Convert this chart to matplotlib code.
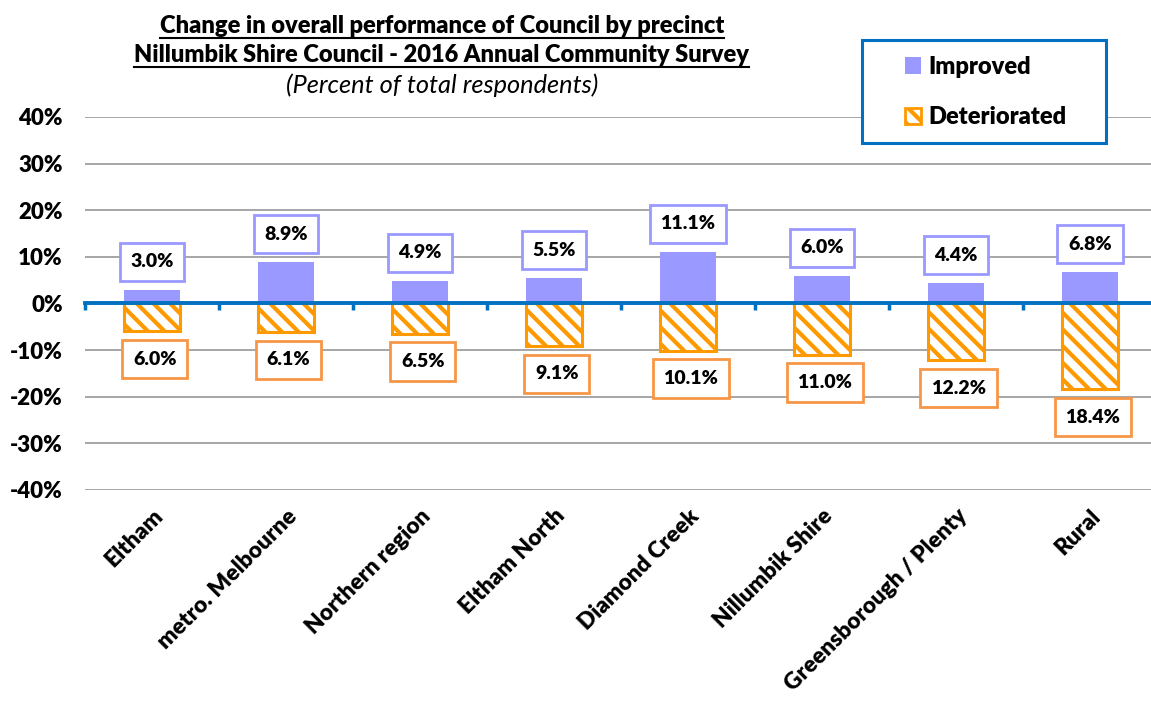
import numpy as np
import matplotlib

matplotlib.use("Agg")
import matplotlib.pyplot as plt
from matplotlib.lines import Line2D
from matplotlib.patches import Rectangle, Patch
from matplotlib.ticker import FuncFormatter

precincts = [
    "Eltham",
    "metro. Melbourne",
    "Northern region",
    "Eltham North",
    "Diamond Creek",
    "Nillumbik Shire",
    "Greensborough / Plenty",
    "Rural",
]
improved = [3.0, 8.9, 4.9, 5.5, 11.1, 6.0, 4.4, 6.8]
deteriorated = [6.0, 6.1, 6.5, 9.1, 10.1, 11.0, 12.2, 18.4]
y_ticks = [40, 30, 20, 10, 0, -10, -20, -30, -40]

COLOR_IMPROVED = "#9999ff"
COLOR_DETER = "#ff9900"
COLOR_DETER_BOX = "#f79646"
COLOR_BLUE = "#0070c0"
COLOR_GRID = "#a6a6a6"
BOLD = "heavy"

plt.rcParams["font.family"] = ["Lato", "DejaVu Sans"]
plt.rcParams["hatch.linewidth"] = 3.0

fig = plt.figure(figsize=(11.51, 7.01), dpi=100)
ax = fig.add_axes([85 / 1151, 1 - 490 / 701, 1072 / 1151, 373 / 701])

x = np.arange(len(precincts))
width = 0.42
ax.bar(x, improved, width, color=COLOR_IMPROVED, zorder=2, label="Improved")
ax.bar(x, [-d for d in deteriorated], width, color="white", edgecolor=COLOR_DETER,
       linewidth=2.2, hatch="\\\\", zorder=2, label="Deteriorated")

# data labels in boxes
for xi, v in zip(x, improved):
    ax.annotate(f"{v:.1f}%", (xi, v), xytext=(0, 20), textcoords="offset points",
                ha="center", va="center", fontsize=14, fontweight=BOLD, zorder=5,
                bbox=dict(boxstyle="square,pad=0.55", fc="white", ec=COLOR_IMPROVED, lw=2))
for xi, v in zip(x, deteriorated):
    ax.annotate(f"{v:.1f}%", (xi + 0.02, -v), xytext=(0, -20), textcoords="offset points",
                ha="center", va="center", fontsize=14, fontweight=BOLD, zorder=5,
                bbox=dict(boxstyle="square,pad=0.55", fc="white", ec=COLOR_DETER_BOX, lw=2))

ax.set_xlim(-0.5, len(precincts) - 0.5)
ax.set_ylim(-40, 40)
ax.set_yticks(y_ticks)
ax.yaxis.set_major_formatter(FuncFormatter(lambda v, _: f"{v:.0f}%"))
ax.tick_params(axis="y", length=0, pad=16, labelsize=16)
for lbl in ax.get_yticklabels():
    lbl.set_fontweight(BOLD)
ax.grid(axis="y", color=COLOR_GRID, linewidth=1.4)
ax.set_axisbelow(True)
for spine in ax.spines.values():
    spine.set_visible(False)

ax.set_xticks(x)
ax.set_xticklabels(precincts, rotation=45, ha="right", rotation_mode="anchor",
                   fontsize=16.4, fontweight=BOLD)
ax.tick_params(axis="x", length=0, pad=11)

# zero axis line with category boundary ticks
sec = ax.secondary_xaxis(0.5)
sec.set_alignment("bottom")
sec.set_zorder(4)
sec.set_xticks(np.arange(len(precincts) + 1) - 0.5)
sec.tick_params(axis="x", direction="out", length=5, width=2.5, color=COLOR_BLUE,
                labelbottom=False)
sec.spines["bottom"].set_color(COLOR_BLUE)
sec.spines["bottom"].set_linewidth(2.8)

# titles (underlined)
t1 = fig.text(0.384, 1 - 33 / 701, "Change in overall performance of Council by precinct",
              ha="center", va="baseline", fontsize=17, fontweight=BOLD)
t2 = fig.text(0.384, 1 - 62 / 701, "Nillumbik Shire Council - 2016 Annual Community Survey",
              ha="center", va="baseline", fontsize=17, fontweight=BOLD)
fig.text(0.384, 1 - 93 / 701, "(Percent of total respondents)", ha="center",
         va="baseline", fontsize=18.3, fontstyle="italic", fontweight="normal")

fig.canvas.draw()
for t in (t1, t2):
    bb = t.get_window_extent().transformed(fig.transFigure.inverted())
    _, base_y = t.get_position()
    fig.add_artist(Line2D([bb.x0, bb.x1], [base_y - 5 / 701] * 2, color="black",
                          lw=1.5, transform=fig.transFigure))

# legend with blue frame
fig.add_artist(Rectangle((862 / 1151, 1 - 143 / 701), 244 / 1151, 103 / 701,
                         transform=fig.transFigure, fc="white", ec=COLOR_BLUE, lw=2.2,
                         zorder=3))
handles = [
    Patch(facecolor=COLOR_IMPROVED, label="Improved"),
    Patch(facecolor="white", edgecolor=COLOR_DETER, hatch="\\\\", linewidth=2, label="Deteriorated"),
]
leg = fig.legend(handles=handles, loc="center left", bbox_to_anchor=(893 / 1151, 1 - 92 / 701),
                 frameon=False, handlelength=0.7, handleheight=0.7,
                 handletextpad=0.3, labelspacing=1.2, borderpad=0,
                 prop={"size": 17, "weight": BOLD})
leg.set_zorder(4)

fig.savefig("out.png", dpi=100)
